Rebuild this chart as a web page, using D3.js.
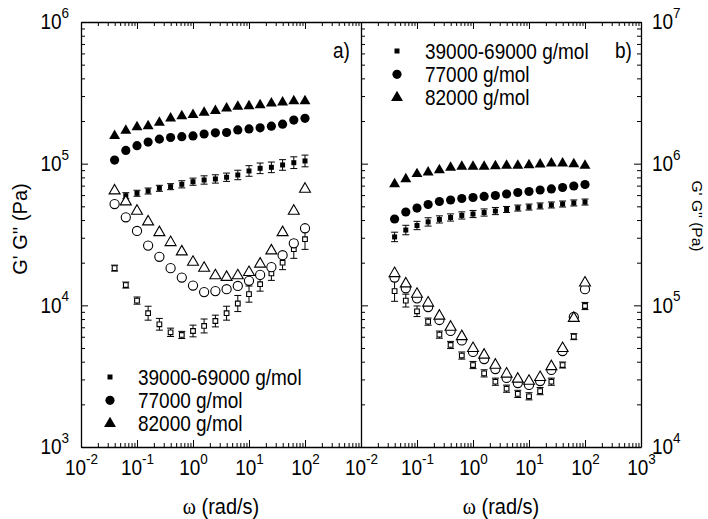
<!DOCTYPE html>
<html>
<head>
<meta charset="utf-8">
<script src="https://cdn.jsdelivr.net/npm/d3@7"></script>
<style>
  body { margin: 0; background: #fff; }
  svg { display: block; font-family: "Liberation Sans", Arial, sans-serif; }
</style>
</head>
<body>
<svg id="chart" width="708" height="519"></svg>
<script>
// frequency points (rad/s), shared by both panels
const omega = [0.0398, 0.0631, 0.1, 0.158, 0.251, 0.398, 0.631, 1, 1.58, 2.51, 3.98, 6.31, 10, 15.8, 25.1, 39.8, 63.1, 100];

// panel a) G' (filled) and G'' (open), Pa
const aGp39 = [null, 59400, 61800, 64100, 67000, 68800, 71500, 74600, 76700, 78000, 80200, 83200, 88800, 92700, 94200, 97900, 101600, 104500];
const aGp77 = [106000, 124000, 134000, 142000, 149000, 153000, 155000, 157000, 162000, 165000, 166000, 173000, 176000, 179000, 184000, 190000, 203000, 209000];
const aGp82 = [157000, 171000, 181000, 184000, 195000, 209000, 217000, 221000, 229000, 236000, 246000, 253000, 255000, 259000, 267000, 271000, 277000, 277000];
const aGpp39 = [18300, 13900, 10800, 8800, 7350, 6450, 6180, 6590, 7150, 7750, 8800, 10300, 12000, 14100, 16800, 20000, 24900, 29300];
const aGpp77 = [51900, 41800, 33500, 26400, 22000, 18300, 15700, 13800, 12400, 12600, 13000, 13700, 14900, 16400, 18600, 22600, 27400, 35000];
const aGpp82 = [64400, 53900, 46300, 38900, 32700, 27800, 23900, 20200, 18300, 16200, 15800, 16200, 17100, 19600, 24300, 32700, 46300, 66200];
// error bars (% of value)
const aErrGp39 = [5, 5, 5, 5, 5, 5, 6, 6, 7, 7, 7, 8, 9, 9, 9, 9, 10, 10];
const aErrGpp39 = [5, 5, 6, 12, 10, 7, 6, 10, 12, 10, 12, 14, 14, 12, 12, 12, 16, 18];

// panel b)
const bGp39 = [304000, 340000, 366000, 388000, 404000, 417000, 431000, 441000, 452000, 463000, 475000, 486000, 494000, 503000, 511000, 519000, 528000, 536000];
const bGp77 = [407000, 456000, 486000, 515000, 541000, 554000, 568000, 577000, 587000, 596000, 611000, 626000, 636000, 652000, 663000, 679000, 696000, 713000];
const bGp82 = [719000, 779000, 846000, 869000, 902000, 937000, 952000, 952000, 952000, 963000, 968000, 968000, 979000, 990000, 1006000, 1006000, 995000, 968000];
const bGpp39 = [126000, 108000, 90800, 76700, 62100, 52500, 44200, 37900, 33100, 28900, 25800, 23700, 22800, 24800, 28900, 37900, 60100, 98900];
const bGpp77 = [157000, 132000, 112000, 97300, 78800, 65900, 56500, 46900, 41800, 35500, 30700, 28300, 27400, 29200, 35000, 47600, 82800, 130000];
const bGpp82 = [168000, 142000, 120000, 104000, 84100, 70300, 60300, 49700, 44600, 37900, 32800, 30200, 29200, 31000, 37000, 49700, 81100, 144000];
const bErrGp39 = [8, 8, 7, 7, 6, 6, 6, 6, 6, 6, 5, 5, 5, 5, 5, 5, 5, 5];
const bErrGpp39 = [18, 11, 9, 6, 6, 6, 6, 6, 6, 6, 6, 6, 6, 6, 6, 5, 5, 6];

const legendLabels = ["39000-69000 g/mol", "77000 g/mol", "82000 g/mol"];

const svg = d3.select("#chart");
const plotTop = 22;
const plotBottom = 447;
const stretchY = 1.12; // text in the figure is drawn slightly tall

const xA = d3.scaleLog().domain([1e-2, 1e3]).range([81, 361]);
const xB = d3.scaleLog().domain([1e-2, 1e3]).range([361, 641]);
const yA = d3.scaleLog().domain([1e3, 1e6]).range([plotBottom, plotTop]);
const yB = d3.scaleLog().domain([1e4, 1e7]).range([plotBottom, plotTop]);

function decades(scale) {
  const [lo, hi] = scale.domain().map((v) => Math.round(Math.log10(v)));
  return d3.range(lo, hi + 1).map((e) => Math.pow(10, e));
}
function minors(scale) {
  const out = [];
  decades(scale).slice(0, -1).forEach((d) => {
    for (let k = 2; k <= 9; k++) out.push(k * d);
  });
  return out;
}

// stretch a text vertically about its baseline y
function tall(sel) {
  sel.each(function () {
    const t = d3.select(this);
    const y = +t.attr("y") || 0;
    t.attr("transform", `matrix(1,0,0,${stretchY},0,${(1 - stretchY) * y})`);
  });
}

function supTicks(g) {
  g.selectAll(".tick text").each(function (d) {
    const t = d3.select(this);
    if (!t.text()) return;
    const e = Math.round(Math.log10(d));
    t.text(null);
    t.append("tspan").text("10");
    t.append("tspan").attr("dy", -10).attr("font-size", 13.5).text(e);
    tall(t);
  });
}

function addAxis(make, scale, at, pad, showLabel) {
  const g = svg.append("g").attr("transform", at);
  g.call(
    make(scale)
      .tickValues(decades(scale))
      .tickSizeInner(-7)
      .tickSizeOuter(0)
      .tickPadding(pad)
      .tickFormat((d) => (showLabel && showLabel(d) ? "x" : ""))
  );
  g.attr("font-size", 19).attr("font-family", null);
  g.select(".domain").attr("stroke-width", 1.3);
  supTicks(g);
  g.append("g")
    .call(make(scale).tickValues(minors(scale)).tickSizeInner(-4).tickSizeOuter(0).tickFormat(""))
    .select(".domain")
    .remove();
  return g;
}

// panel a axes
addAxis(d3.axisBottom, xA, `translate(0,${plotBottom})`, 13, (d) => d < 1000);
addAxis(d3.axisTop, xA, `translate(0,${plotTop})`, 3, null);
addAxis(d3.axisLeft, yA, `translate(81,0)`, 12, () => true);
// panel b axes
addAxis(d3.axisBottom, xB, `translate(0,${plotBottom})`, 13, () => true);
addAxis(d3.axisTop, xB, `translate(0,${plotTop})`, 3, null);
addAxis(d3.axisLeft, yB, `translate(361,0)`, 12, null);
addAxis(d3.axisRight, yB, `translate(641,0)`, 11, () => true);

const shapes = {
  square: { type: d3.symbolSquare, size: 25 },
  squareOpen: { type: d3.symbolSquare, size: 22 },
  circle: { type: d3.symbolCircle, size: 66 },
  triangle: { type: d3.symbolTriangle, size: 52 },
};

function drawSeries(x, y, vals, shape, open, err) {
  const pts = omega
    .map((w, i) => ({ w, v: vals[i], e: err ? err[i] : 0 }))
    .filter((d) => d.v != null);
  const g = svg.append("g");
  if (err) {
    const eb = g.append("g").attr("stroke", "#000").attr("stroke-width", 1);
    const hi = (d) => y(d.v * (1 + d.e / 100));
    const lo = (d) => y(d.v / (1 + d.e / 100));
    eb.selectAll(".bar").data(pts).join("line").attr("class", "bar")
      .attr("x1", (d) => x(d.w)).attr("x2", (d) => x(d.w))
      .attr("y1", hi).attr("y2", lo);
    [hi, lo].forEach((f) => {
      eb.append("g").selectAll("line").data(pts).join("line")
        .attr("x1", (d) => x(d.w) - 3.5).attr("x2", (d) => x(d.w) + 3.5)
        .attr("y1", f).attr("y2", f);
    });
  }
  const s = shapes[shape];
  g.append("g").selectAll("path").data(pts).join("path")
    .attr("transform", (d) => `translate(${x(d.w)},${y(d.v)})`)
    .attr("d", d3.symbol().type(s.type).size(s.size)())
    .attr("fill", open ? "#fff" : "#000")
    .attr("stroke", open ? "#000" : "none")
    .attr("stroke-width", 1.1);
}

// panel a
drawSeries(xA, yA, aGpp39, "squareOpen", true, aErrGpp39);
drawSeries(xA, yA, aGpp77, "circle", true, null);
drawSeries(xA, yA, aGp39, "square", false, aErrGp39);
drawSeries(xA, yA, aGpp82, "triangle", true, null);
drawSeries(xA, yA, aGp77, "circle", false, null);
drawSeries(xA, yA, aGp82, "triangle", false, null);
// panel b
drawSeries(xB, yB, bGpp39, "squareOpen", true, bErrGpp39);
drawSeries(xB, yB, bGpp77, "circle", true, null);
drawSeries(xB, yB, bGpp82, "triangle", true, null);
drawSeries(xB, yB, bGp39, "square", false, bErrGp39);
drawSeries(xB, yB, bGp77, "circle", false, null);
drawSeries(xB, yB, bGp82, "triangle", false, null);

// legends
function legend(x0, y0) {
  const g = svg.append("g").attr("transform", `translate(${x0},${y0})`);
  const keys = ["square", "circle", "triangle"];
  legendLabels.forEach((label, i) => {
    const s = shapes[keys[i]];
    g.append("path")
      .attr("transform", `translate(0,${i * 23.3})`)
      .attr("d", d3.symbol().type(s.type).size(i === 2 ? 62 : s.size)());
    g.append("text")
      .attr("x", 28)
      .attr("y", i * 23.3 + 7.5)
      .attr("font-size", 19)
      .text(label)
      .call(tall);
  });
}
legend(110, 377);
legend(397, 51);

// panel tags
svg.append("text").attr("x", 333).attr("y", 58).attr("font-size", 19).text("a)").call(tall);
svg.append("text").attr("x", 615).attr("y", 58).attr("font-size", 19).text("b)").call(tall);

// axis titles
[xA, xB].forEach((x) => {
  const [r0, r1] = x.range();
  const t = svg.append("text")
    .attr("x", (r0 + r1) / 2)
    .attr("y", 514)
    .attr("text-anchor", "middle")
    .attr("font-size", 20);
  t.append("tspan").attr("font-family", "'Liberation Serif', serif").text("ω");
  t.append("tspan").text(" (rad/s)");
  tall(t);
});

svg.append("text")
  .attr("transform", "translate(27,229) rotate(-90)")
  .attr("text-anchor", "middle")
  .attr("font-size", 20)
  .text("G' G'' (Pa)");

svg.append("text")
  .attr("transform", "translate(692,216) rotate(90)")
  .attr("text-anchor", "middle")
  .attr("font-size", 15.5)
  .text("G' G'' (Pa)");
</script>
</body>
</html>
